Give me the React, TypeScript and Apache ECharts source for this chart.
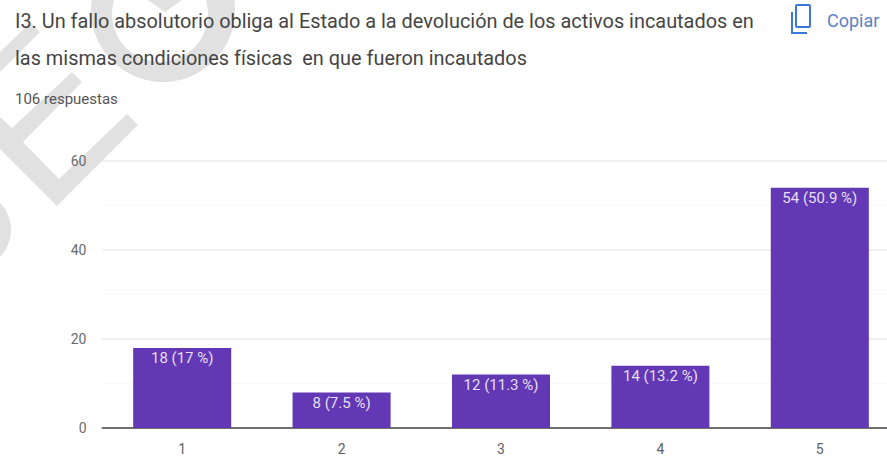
import React, { useEffect, useRef } from "react";
import * as echarts from "echarts";

const categories = ["1", "2", "3", "4", "5"];
const counts = [18, 8, 12, 14, 54];
const barLabels = ["18 (17 %)", "8 (7.5 %)", "12 (11.3 %)", "14 (13.2 %)", "54 (50.9 %)"];
const titleLines = [
  "I3. Un fallo absolutorio obliga al Estado a la devolución de los activos incautados en",
  "las mismas condiciones físicas  en que fueron incautados",
];
const responses = "106 respuestas";
const copyLabel = "Copiar";

const FONT = "Roboto";
const WM = "#e1e1e1";

export default function App() {
  const ref = useRef<HTMLDivElement>(null);
  useEffect(() => {
    document.body.style.margin = "0";
    const chart = echarts.init(ref.current!, null, { renderer: "svg" });
    chart.setOption({
      animation: false,
      backgroundColor: "#fff",
      grid: { left: 102.5, top: 161, width: 797, height: 267, outerBoundsMode: "none" },
      xAxis: {
        type: "category",
        data: categories,
        axisTick: { show: false },
        axisLine: { lineStyle: { color: "#6f6f6f", width: 2 } },
        axisLabel: { color: "#5f5f5f", fontFamily: FONT, fontSize: 14, margin: 14 },
      },
      yAxis: {
        type: "value",
        min: 0,
        max: 60,
        interval: 20,
        axisLine: { show: false },
        axisTick: { show: false },
        axisLabel: { color: "#6b6b6b", fontFamily: FONT, fontSize: 14, margin: 16 },
        splitLine: { lineStyle: { color: "#f0f0f0", width: 2 } },
        minorTick: { show: false, splitNumber: 2 },
        minorSplitLine: { show: true, lineStyle: { color: "#f8f8f8", width: 1 } },
      },
      series: [
        {
          type: "bar",
          data: counts,
          barWidth: "61.5%",
          itemStyle: { color: "#6238b4" },
          z: 3,
          label: {
            show: true,
            position: "insideTop",
            distance: 3,
            color: "#e6dff5",
            fontFamily: FONT,
            fontSize: 15,
            formatter: (p: any) => barLabels[p.dataIndex],
          },
        },
      ],
      graphic: [
        { type: "circle", silent: true, z: -2, shape: { cx: 163, cy: 10, r: 72 }, style: { fill: WM } },
        { type: "circle", silent: true, z: -2, shape: { cx: 160, cy: 14, r: 48 }, style: { fill: "#ffffff" } },
        { type: "polygon", silent: true, z: -2, shape: { points: [[148, 0], [165, 12], [182, 0]] }, style: { fill: WM } },
        { type: "polygon", silent: true, z: -2, shape: { points: [[30, 23], [40, 32], [0, 72], [0, 52]] }, style: { fill: WM } },
        {
          type: "polygon", silent: true, z: -2,
          shape: { points: [[0, 117], [12, 128], [72, 72], [82, 82], [23, 142], [59, 179], [127, 114], [138, 125], [57, 206], [0, 149]] },
          style: { fill: WM },
        },
        { type: "circle", silent: true, z: -2, shape: { cx: -28, cy: 230, r: 39 }, style: { fill: WM } },
        { type: "text", x: 15, y: 11, style: { text: titleLines[0], font: `19.9px ${FONT}`, fill: "#454545" } },
        { type: "text", x: 15, y: 48, style: { text: titleLines[1], font: `19.9px ${FONT}`, fill: "#454545" } },
        { type: "text", x: 15, y: 91, style: { text: responses, font: `15px ${FONT}`, fill: "#555" } },
        { type: "text", x: 827, y: 11, style: { text: copyLabel, font: `18px ${FONT}`, fill: "#5b82c8" } },
        { type: "polyline", shape: { points: [[792, 12], [792, 33], [807, 33]] }, style: { fill: "none", stroke: "#3b78d8", lineWidth: 2 } },
        { type: "rect", shape: { x: 796, y: 5, width: 14, height: 22, r: 1 }, style: { fill: "none", stroke: "#3b78d8", lineWidth: 2 } },
      ],
    });
    return () => chart.dispose();
  }, []);
  return (
    <div style={{ width: 887, height: 457, overflow: "hidden" }}>
      <div ref={ref} style={{ width: 899, height: 457 }} />
    </div>
  );
}
